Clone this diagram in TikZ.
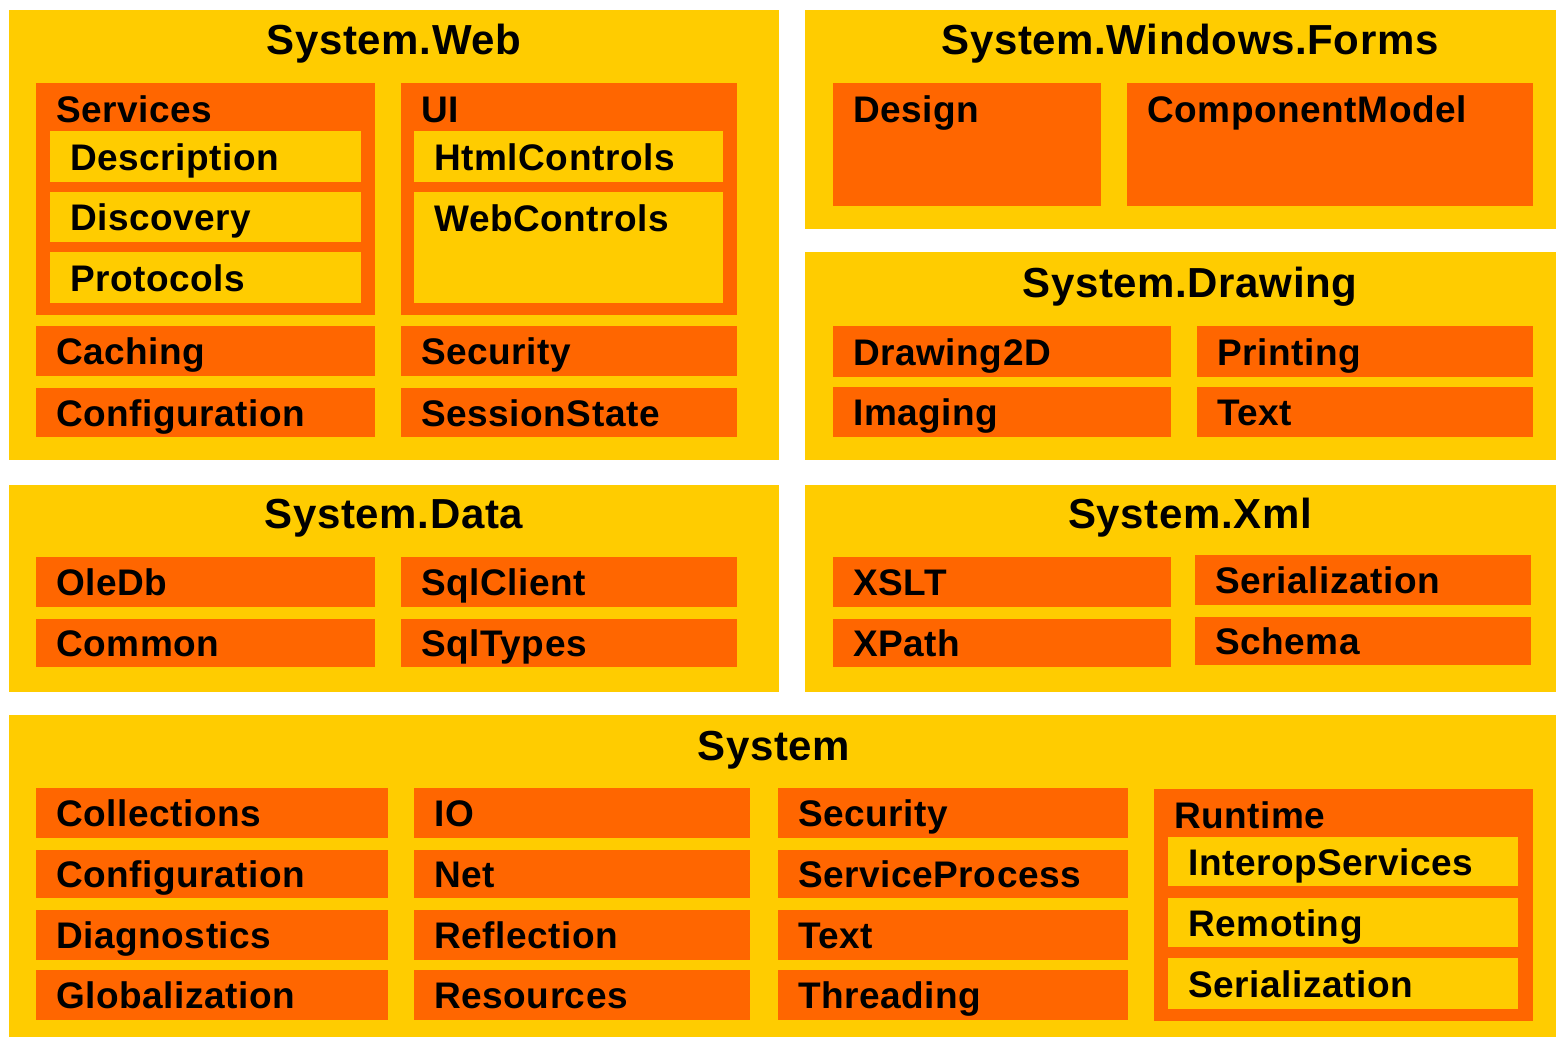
\documentclass[tikz,border=0pt]{standalone}
\usepackage{fontspec}
\setmainfont[LetterSpace=1.5]{Liberation Sans}
\definecolor{panelyellow}{HTML}{FFCC00}
\definecolor{nsorange}{HTML}{FF6600}
\tikzset{
  boxbase/.style={inner sep=0pt, outer sep=0pt, anchor=north west, draw=none},
  area/.style={boxbase, fill=panelyellow},
  ns/.style={boxbase, fill=nsorange},
  sub/.style={boxbase, fill=panelyellow},
  lbl/.style={font=\fontsize{37}{40}\selectfont\bfseries, inner sep=0pt, anchor=base west},
  ttl/.style={font=\fontsize{42}{46}\selectfont\bfseries, inner sep=0pt, anchor=base},
}
% \blk{style}{name}{x1}{y1}{x2}{y2}: a filled box between two corners (pixel units, y down)
\newcommand\blk[6]{%
  \node[#1, minimum width={(#5-#3)*1pt}, minimum height={(#6-#4)*1pt}] (#2) at (#3,#4) {};}
% label vertically centred in a box
\newcommand\cenlbl[2]{\node[lbl] (#1-l) at ([xshift=20pt, yshift=-13.5pt]#1.west) {#2};}
% label at the top of a box
\newcommand\toplbl[2]{\node[lbl] (#1-l) at ([xshift=20pt, yshift=-39pt]#1.north west) {#2};}
% a box with a centred label
\newcommand\nsrow[7]{\blk{#1}{#2}{#3}{#4}{#5}{#6}\cenlbl{#2}{#7}}
\begin{document}
\begin{tikzpicture}[x=1pt, y=-1pt]
  \useasboundingbox[fill=white] (0,0) rectangle (1556,1039);

  % ---------- System.Web ----------
  \blk{area}{web}{9}{10}{779}{460}
  \node[ttl] (web-t) at (394,54) {System.Web};
  \blk{ns}{services}{36}{83}{375}{315}\toplbl{services}{Services}
  \nsrow{sub}{description}{50}{131}{361}{182}{Description}
  \nsrow{sub}{discovery}{50}{192}{361}{242}{Discovery}
  \nsrow{sub}{protocols}{50}{252}{361}{303}{Protocols}
  \blk{ns}{ui}{401}{83}{737}{315}\toplbl{ui}{UI}
  \nsrow{sub}{htmlcontrols}{414}{131}{723}{182}{HtmlControls}
  \blk{sub}{webcontrols}{414}{192}{723}{303}\toplbl{webcontrols}{WebControls}
  \nsrow{ns}{caching}{36}{326}{375}{376}{Caching}
  \nsrow{ns}{webconfig}{36}{388}{375}{437}{Configuration}
  \nsrow{ns}{websecurity}{401}{326}{737}{376}{Security}
  \nsrow{ns}{sessionstate}{401}{388}{737}{437}{SessionState}

  % ---------- System.Windows.Forms ----------
  \blk{area}{forms}{805}{10}{1556}{229}
  \node[ttl] (forms-t) at (1190,54) {System.Windows.Forms};
  \blk{ns}{design}{833}{83}{1101}{206}\toplbl{design}{Design}
  \blk{ns}{componentmodel}{1127}{83}{1533}{206}\toplbl{componentmodel}{ComponentModel}

  % ---------- System.Drawing ----------
  \blk{area}{drawing}{805}{252}{1556}{460}
  \node[ttl] (drawing-t) at (1190,297) {System.Drawing};
  \nsrow{ns}{drawing2d}{833}{326}{1171}{377}{Drawing2D}
  \nsrow{ns}{imaging}{833}{387}{1171}{437}{Imaging}
  \nsrow{ns}{printing}{1197}{326}{1533}{377}{Printing}
  \nsrow{ns}{drawtext}{1197}{387}{1533}{437}{Text}

  % ---------- System.Data ----------
  \blk{area}{data}{9}{485}{779}{692}
  \node[ttl] (data-t) at (394,528) {System.Data};
  \nsrow{ns}{oledb}{36}{557}{375}{607}{OleDb}
  \nsrow{ns}{common}{36}{619}{375}{667}{Common}
  \nsrow{ns}{sqlclient}{401}{557}{737}{607}{SqlClient}
  \nsrow{ns}{sqltypes}{401}{619}{737}{667}{SqlTypes}

  % ---------- System.Xml ----------
  \blk{area}{xml}{805}{485}{1556}{692}
  \node[ttl] (xml-t) at (1190,528) {System.Xml};
  \nsrow{ns}{xslt}{833}{557}{1171}{607}{XSLT}
  \nsrow{ns}{xpath}{833}{619}{1171}{667}{XPath}
  \nsrow{ns}{xmlserial}{1195}{555}{1531}{605}{Serialization}
  \nsrow{ns}{schema}{1195}{617}{1531}{665}{Schema}

  % ---------- System ----------
  \blk{area}{sys}{9}{715}{1556}{1037}
  \node[ttl] (sys-t) at (774,760) {System};
  \nsrow{ns}{collections}{36}{788}{388}{838}{Collections}
  \nsrow{ns}{sysconfig}{36}{850}{388}{898}{Configuration}
  \nsrow{ns}{diagnostics}{36}{910}{388}{960}{Diagnostics}
  \nsrow{ns}{globalization}{36}{970}{388}{1020}{Globalization}
  \nsrow{ns}{io}{414}{788}{750}{838}{IO}
  \nsrow{ns}{net}{414}{850}{750}{898}{Net}
  \nsrow{ns}{reflection}{414}{910}{750}{960}{Reflection}
  \nsrow{ns}{resources}{414}{970}{750}{1020}{Resources}
  \nsrow{ns}{syssecurity}{778}{788}{1128}{838}{Security}
  \nsrow{ns}{serviceprocess}{778}{850}{1128}{898}{ServiceProcess}
  \nsrow{ns}{systext}{778}{910}{1128}{960}{Text}
  \nsrow{ns}{threading}{778}{970}{1128}{1020}{Threading}
  \blk{ns}{runtime}{1154}{789}{1533}{1021}\toplbl{runtime}{Runtime}
  \nsrow{sub}{interop}{1168}{837}{1518}{886}{InteropServices}
  \nsrow{sub}{remoting}{1168}{898}{1518}{947}{Remoting}
  \nsrow{sub}{rtserial}{1168}{958}{1518}{1009}{Serialization}
\end{tikzpicture}
\end{document}
